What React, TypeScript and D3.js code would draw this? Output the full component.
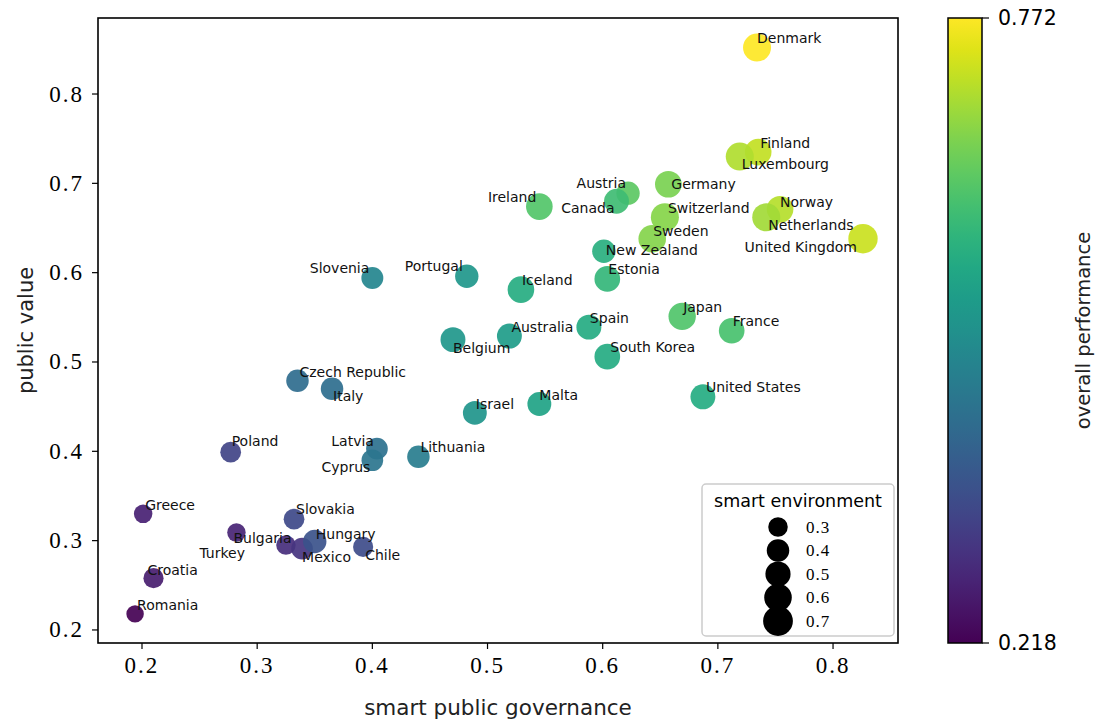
import React from "react";
import * as d3 from "d3";

// country data
const countries = [
  "Romania", "Croatia", "Greece", "Bulgaria", "Turkey", "Mexico", "Hungary", "Slovakia", "Chile",
  "Poland", "Latvia", "Cyprus", "Lithuania", "Czech Republic", "Italy", "Slovenia", "Israel",
  "Malta", "Belgium", "Portugal", "Australia", "Iceland", "Spain", "South Korea", "United States",
  "New Zealand", "Estonia", "France", "Japan", "Ireland", "Austria", "Canada", "Germany",
  "Switzerland", "Sweden", "Norway", "Netherlands", "Finland", "Luxembourg", "United Kingdom", "Denmark",
];
const governance = [
  0.194, 0.210, 0.201, 0.282, 0.325, 0.339, 0.350, 0.332, 0.392,
  0.277, 0.404, 0.400, 0.440, 0.335, 0.365, 0.400, 0.489,
  0.545, 0.470, 0.482, 0.519, 0.529, 0.588, 0.604, 0.687,
  0.601, 0.604, 0.712, 0.669, 0.545, 0.622, 0.612, 0.657,
  0.654, 0.643, 0.754, 0.742, 0.735, 0.719, 0.826, 0.734,
];
const publicValue = [
  0.218, 0.258, 0.330, 0.309, 0.295, 0.291, 0.299, 0.324, 0.293,
  0.399, 0.403, 0.390, 0.394, 0.479, 0.470, 0.594, 0.443,
  0.453, 0.525, 0.596, 0.529, 0.581, 0.539, 0.506, 0.461,
  0.624, 0.593, 0.535, 0.551, 0.674, 0.689, 0.680, 0.699,
  0.662, 0.638, 0.671, 0.662, 0.735, 0.730, 0.638, 0.852,
];
const environment = [
  0.24, 0.32, 0.27, 0.27, 0.30, 0.37, 0.43, 0.34, 0.32,
  0.34, 0.37, 0.37, 0.40, 0.40, 0.40, 0.38, 0.45,
  0.45, 0.49, 0.43, 0.49, 0.56, 0.49, 0.52, 0.49,
  0.43, 0.52, 0.52, 0.59, 0.56, 0.43, 0.49, 0.56,
  0.62, 0.60, 0.56, 0.62, 0.56, 0.62, 0.68, 0.62,
];
const overall = [
  0.218, 0.262, 0.268, 0.273, 0.290, 0.301, 0.357, 0.340, 0.345,
  0.329, 0.423, 0.434, 0.451, 0.412, 0.417, 0.473, 0.506,
  0.539, 0.512, 0.512, 0.523, 0.561, 0.556, 0.556, 0.558,
  0.567, 0.584, 0.611, 0.620, 0.622, 0.633, 0.600, 0.661,
  0.672, 0.670, 0.711, 0.695, 0.722, 0.705, 0.728, 0.772,
];
const legendSizes = [0.3, 0.4, 0.5, 0.6, 0.7];
const xTicks = [0.2, 0.3, 0.4, 0.5, 0.6, 0.7, 0.8];
const yTicks = [0.2, 0.3, 0.4, 0.5, 0.6, 0.7, 0.8];
const colorRange = [0.218, 0.772];

// label placement (pixel nudges, like adjustText did it)
const labelNudge: Record<string, [number, number, string]> = {
  Romania: [2, -9, "start"], Croatia: [-6, -8, "start"], Greece: [2, -9, "start"],
  Bulgaria: [-3, 5, "start"], Turkey: [-41, 8, "end"], Mexico: [0, 8, "start"],
  Hungary: [1, -8, "start"], Slovakia: [2, -10, "start"], Chile: [2, 8, "start"],
  Poland: [1, -11, "start"], Latvia: [-3, -8, "end"], Cyprus: [-2, 7, "end"],
  Lithuania: [2, -10, "start"], "Czech Republic": [2, -9, "start"], Italy: [1, 7, "start"],
  Slovenia: [-3, -10, "end"], Israel: [1, -9, "start"], Malta: [0, -9, "start"],
  Belgium: [0, 8, "start"], Portugal: [-4, -10, "end"], Australia: [2, -9, "start"],
  Iceland: [1, -10, "start"], Spain: [1, -9, "start"], "South Korea": [3, -10, "start"],
  "United States": [3, -10, "start"], "New Zealand": [2, -1, "start"], Estonia: [1, -10, "start"],
  France: [1, -10, "start"], Japan: [1, -9, "start"], Ireland: [-3, -10, "end"],
  Austria: [-2, -10, "end"], Canada: [-2, 7, "end"], Germany: [3, 0, "start"],
  Switzerland: [3, -9, "start"], Sweden: [1, -8, "start"], Norway: [0, -7, "start"],
  Netherlands: [2, 8, "start"], Finland: [2, -9, "start"], Luxembourg: [2, 7, "start"],
  "United Kingdom": [-6, 8, "end"], Denmark: [0, -10, "start"],
};

const W = 1097;
const H = 722;
const box = { left: 98, right: 898, top: 18, bottom: 643 };
const cbar = { left: 948, right: 982 };

const sansLabel = "'DejaVu Sans', sans-serif";
const serif = "'Liberation Serif', 'DejaVu Serif', serif";

export default function App() {
  const x = d3.scaleLinear().domain([0.1618, 0.8564]).range([box.left, box.right]);
  const y = d3.scaleLinear().domain([0.1854, 0.8851]).range([box.bottom, box.top]);
  const color = d3.scaleSequential(d3.interpolateViridis).domain(colorRange);
  const r = (v: number) => 17.8 * Math.sqrt(v);

  const data = countries.map((name, i) => ({
    name,
    gx: governance[i],
    pv: publicValue[i],
    env: environment[i],
    ov: overall[i],
  }));

  const cbY = d3.scaleLinear().domain(colorRange).range([box.bottom, box.top]);
  const stops = d3.range(0, 1.0001, 0.05);

  const legend = { x: 702, y: 484, w: 192, h: 152 };

  return (
    <svg width={W} height={H} style={{ position: "absolute", left: 0, top: 0, background: "#fff" }}>
      <defs>
        <linearGradient id="viridis" x1="0" y1="1" x2="0" y2="0">
          {stops.map((t) => (
            <stop key={t} offset={`${t * 100}%`} stopColor={d3.interpolateViridis(t)} />
          ))}
        </linearGradient>
      </defs>

      {/* points */}
      <g>
        {data.map((d) => (
          <circle
            key={d.name}
            cx={x(d.gx)}
            cy={y(d.pv)}
            r={r(d.env)}
            fill={color(d.ov)}
            fillOpacity={0.92}
          />
        ))}
      </g>

      {/* country labels */}
      <g fontFamily={sansLabel} fontSize={14} fill="#111">
        {data.map((d) => {
          const [dx, dy, anchor] = labelNudge[d.name];
          return (
            <text
              key={d.name}
              x={x(d.gx) + dx}
              y={y(d.pv) + dy}
              textAnchor={anchor}
              dominantBaseline="central"
            >
              {d.name}
            </text>
          );
        })}
      </g>

      {/* frame */}
      <rect
        x={box.left}
        y={box.top}
        width={box.right - box.left}
        height={box.bottom - box.top}
        fill="none"
        stroke="#000"
        strokeWidth={1.6}
      />

      {/* x axis */}
      <g fontFamily={serif} fontSize={23}>
        {xTicks.map((t) => (
          <g key={t} transform={`translate(${x(t)},${box.bottom})`}>
            <line y2={6} stroke="#000" strokeWidth={1.2} />
            <text y={22} textAnchor="middle" dominantBaseline="central" letterSpacing={2}>
              {t.toFixed(1)}
            </text>
          </g>
        ))}
      </g>
      <text
        x={(box.left + box.right) / 2}
        y={707}
        textAnchor="middle"
        dominantBaseline="central"
        fontFamily={sansLabel}
        fontSize={21.5}
        fill="#222"
      >
        smart public governance
      </text>

      {/* y axis */}
      <g fontFamily={serif} fontSize={23}>
        {yTicks.map((t) => (
          <g key={t} transform={`translate(${box.left},${y(t)})`}>
            <line x2={-6} stroke="#000" strokeWidth={1.2} />
            <text x={-14} textAnchor="end" dominantBaseline="central" letterSpacing={2}>
              {t.toFixed(1)}
            </text>
          </g>
        ))}
      </g>
      <text
        transform={`translate(26,${(box.top + box.bottom) / 2}) rotate(-90)`}
        textAnchor="middle"
        dominantBaseline="central"
        fontFamily={sansLabel}
        fontSize={21}
        fill="#222"
      >
        public value
      </text>

      {/* size legend */}
      <g>
        <rect
          x={legend.x}
          y={legend.y}
          width={legend.w}
          height={legend.h}
          rx={4}
          fill="#fff"
          fillOpacity={0.85}
          stroke="#ccc"
          strokeWidth={1.5}
        />
        <text
          x={legend.x + legend.w / 2}
          y={legend.y + 17}
          textAnchor="middle"
          dominantBaseline="central"
          fontFamily={sansLabel}
          fontSize={17.5}
        >
          smart environment
        </text>
        {legendSizes.map((s, i) => (
          <g key={s} transform={`translate(${legend.x + 76},${legend.y + 43 + i * 23.5})`}>
            <circle r={r(s)} fill="#000" />
            <text x={28} textAnchor="start" dominantBaseline="central" fontFamily={serif} fontSize={17} letterSpacing={1}>
              {s.toFixed(1)}
            </text>
          </g>
        ))}
      </g>

      {/* colorbar */}
      <rect
        x={cbar.left}
        y={box.top}
        width={cbar.right - cbar.left}
        height={box.bottom - box.top}
        fill="url(#viridis)"
        stroke="#000"
        strokeWidth={1.5}
      />
      <g fontFamily={sansLabel} fontSize={20.5}>
        {colorRange.map((v) => (
          <g key={v} transform={`translate(${cbar.right},${cbY(v)})`}>
            <line x2={7} stroke="#000" strokeWidth={1.2} />
            <text x={16} dominantBaseline="central">
              {v.toFixed(3)}
            </text>
          </g>
        ))}
      </g>
      <text
        transform={`translate(1083,${(box.top + box.bottom) / 2}) rotate(-90)`}
        textAnchor="middle"
        dominantBaseline="central"
        fontFamily={sansLabel}
        fontSize={19.5}
        fill="#222"
      >
        overall performance
      </text>
    </svg>
  );
}
